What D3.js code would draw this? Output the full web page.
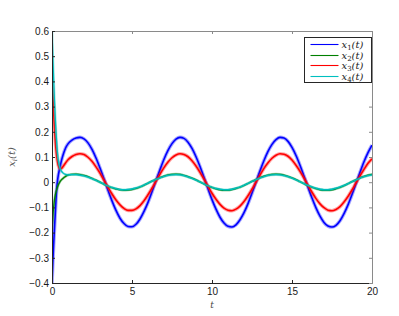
<!DOCTYPE html>
<html><head><meta charset="utf-8">
<script src="https://cdn.jsdelivr.net/npm/d3@7"></script>
<style>
html,body{margin:0;padding:0;background:#fff;}
svg{display:block;}
</style></head>
<body>
<script>
// ---- data ----
const tValues = [0,0.05,0.1,0.15,0.2,0.25,0.3,0.35,0.4,0.45,0.5,0.6,0.7,0.8,0.9,
 1,1.25,1.5,1.75,2,2.25,2.5,2.75,3,3.25,3.5,3.75,4,4.25,4.5,4.75,5,5.25,5.5,5.75,6,6.25,6.5,6.75,
 7,7.25,7.5,7.75,8,8.25,8.5,8.75,9,9.25,9.5,9.75,10,10.25,10.5,10.75,11,11.25,11.5,11.75,12,12.25,12.5,12.75,
 13,13.25,13.5,13.75,14,14.25,14.5,14.75,15,15.25,15.5,15.75,16,16.25,16.5,16.75,17,17.25,17.5,17.75,
 18,18.25,18.5,18.75,19,19.25,19.5,19.75,20];

const x1 = [-0.40,-0.32,-0.25,-0.19,-0.13,-0.07,-0.02,0.008,0.03,0.046,0.06,0.088,0.11,0.128,0.142,
 0.152,0.167,0.175,0.178,0.172,0.156,0.130,0.096,0.056,0.013,-0.032,-0.074,-0.112,-0.143,-0.164,-0.176,-0.177,-0.167,-0.146,-0.116,-0.080,-0.038,0.007,0.050,
 0.091,0.126,0.153,0.171,0.178,0.174,0.159,0.134,0.101,0.062,0.019,-0.026,-0.069,-0.107,-0.139,-0.162,-0.175,-0.178,-0.169,-0.149,-0.121,-0.085,-0.043,0.001,
 0.045,0.086,0.122,0.150,0.169,0.178,0.175,0.162,0.138,0.106,0.067,0.024,-0.020,-0.063,-0.102,-0.135,-0.160,-0.174,-0.178,-0.171,
 -0.153,-0.125,-0.090,-0.049,-0.005,0.039,0.081,0.117,0.147];

const x2 = [-0.19,-0.14,-0.10,-0.072,-0.053,-0.039,-0.028,-0.018,-0.010,-0.004,0.002,0.010,0.016,0.021,0.025,
 0.028,0.031,0.032,0.030,0.027,0.022,0.015,0.008,0.000,-0.008,-0.016,-0.022,-0.027,-0.030,-0.032,-0.031,-0.029,-0.025,-0.019,-0.012,-0.004,0.004,0.011,0.018,
 0.024,0.029,0.031,0.032,0.031,0.027,0.022,0.016,0.009,0.001,-0.007,-0.015,-0.021,-0.026,-0.030,-0.032,-0.032,-0.029,-0.025,-0.020,-0.013,-0.005,0.003,0.010,
 0.018,0.024,0.028,0.031,0.032,0.031,0.028,0.023,0.017,0.010,0.002,-0.006,-0.014,-0.020,-0.026,-0.030,-0.032,-0.032,-0.030,-0.026,
 -0.021,-0.014,-0.006,0.002,0.009,0.017,0.023,0.028,0.031];

const x3 = [0.40,0.35,0.28,0.22,0.17,0.13,0.10,0.08,0.065,0.057,0.053,0.055,0.063,0.072,0.081,
 0.089,0.102,0.110,0.113,0.110,0.099,0.083,0.061,0.036,0.008,-0.020,-0.047,-0.071,-0.090,-0.104,-0.112,-0.112,-0.106,-0.093,-0.074,-0.050,-0.024,0.004,0.032,
 0.058,0.080,0.097,0.108,0.113,0.110,0.101,0.085,0.064,0.039,0.012,-0.016,-0.044,-0.068,-0.088,-0.103,-0.111,-0.113,-0.107,-0.095,-0.077,-0.054,-0.028,0.000,
 0.028,0.055,0.077,0.095,0.107,0.113,0.111,0.103,0.088,0.067,0.043,0.016,-0.013,-0.040,-0.065,-0.086,-0.101,-0.111,-0.113,-0.108,
 -0.097,-0.079,-0.057,-0.031,-0.003,0.025,0.051,0.075,0.093];

const x4 = [0.60,0.50,0.41,0.33,0.26,0.20,0.15,0.11,0.085,0.068,0.056,0.043,0.036,0.032,0.030,
 0.029,0.030,0.030,0.028,0.025,0.020,0.014,0.007,0.000,-0.008,-0.015,-0.021,-0.025,-0.029,-0.030,-0.029,-0.027,-0.023,-0.018,-0.011,-0.004,0.004,0.011,0.017,
 0.023,0.027,0.029,0.030,0.029,0.026,0.021,0.015,0.008,0.001,-0.007,-0.014,-0.020,-0.025,-0.028,-0.030,-0.030,-0.028,-0.024,-0.019,-0.012,-0.005,0.003,0.010,
 0.017,0.022,0.027,0.029,0.030,0.029,0.026,0.022,0.016,0.009,0.002,-0.006,-0.013,-0.019,-0.024,-0.028,-0.030,-0.030,-0.028,-0.024,
 -0.019,-0.013,-0.006,0.002,0.009,0.016,0.022,0.026,0.029];

const seriesNames = ["x1","x2","x3","x4"];
const seriesSubs = ["1","2","3","4"];
const seriesColors = ["#0000ff","#008000","#ff0000","#00bfbf"];
const xTicks = [0,5,10,15,20];
const yTicks = [-0.4,-0.3,-0.2,-0.1,0,0.1,0.2,0.3,0.4,0.5,0.6];

// ---- layout ----
const W = 399, H = 316;
const L = 52, R = 372, T = 31, B = 283;
const svg = d3.select("body").append("svg").attr("width", W).attr("height", H);

const x = d3.scaleLinear().domain([0,20]).range([L,R]);
const y = d3.scaleLinear().domain([-0.4,0.6]).range([B,T]);

const fmtY = v => (Math.abs(v) < 1e-9 ? "0" : (v < 0 ? "\u2212" + d3.format(".1f")(-v) : d3.format(".1f")(v)));

svg.append("defs").append("clipPath").attr("id","clip")
  .append("rect").attr("x",L).attr("y",T).attr("width",R-L).attr("height",B-T);

// lines (a faint wider underlay mimics the noisy band of the simulated trajectories)
const allSeries = [x1,x2,x3,x4];
const line = d3.line().x(d=>x(d[0])).y(d=>y(d[1])).curve(d3.curveMonotoneX);
const gLines = svg.append("g").attr("clip-path","url(#clip)");
allSeries.forEach((vals,i)=>{
  const pts = tValues.map((t,k)=>[t, vals[k]]).filter(d=>d[1]!==undefined);
  const big = (i===0||i===2);
  gLines.append("path").datum(pts)
    .attr("fill","none").attr("stroke",seriesColors[i])
    .attr("stroke-opacity",0.35)
    .attr("stroke-width", big ? 3.6 : 2.6)
    .attr("stroke-linejoin","round")
    .attr("d",line);
  gLines.append("path").datum(pts)
    .attr("fill","none").attr("stroke",seriesColors[i])
    .attr("stroke-width", big ? 1.6 : 1.3)
    .attr("stroke-linejoin","round")
    .attr("d",line);
});

// axes (MATLAB style box with inward ticks)
const axisFont = "Liberation Sans, Arial, Helvetica, sans-serif";
const gx = svg.append("g").attr("transform",`translate(0,${B})`)
  .call(d3.axisBottom(x).tickValues(xTicks).tickSizeInner(-3).tickSizeOuter(0).tickPadding(5).tickFormat(d3.format("d")));
const gxTop = svg.append("g").attr("transform",`translate(0,${T})`)
  .call(d3.axisTop(x).tickValues(xTicks).tickSizeInner(-3).tickSizeOuter(0).tickFormat(""));
const gy = svg.append("g").attr("transform",`translate(${L},0)`)
  .call(d3.axisLeft(y).tickValues(yTicks).tickSizeInner(-3).tickSizeOuter(0).tickPadding(3).tickFormat(fmtY));
const gyR = svg.append("g").attr("transform",`translate(${R},0)`)
  .call(d3.axisRight(y).tickValues(yTicks).tickSizeInner(-3).tickSizeOuter(0).tickFormat(""));

[gx,gy].forEach(g=>{
  g.select(".domain").attr("stroke","#262626");
  g.selectAll(".tick line").attr("stroke","#262626");
  g.selectAll(".tick text").attr("fill","#1a1a1a").style("font-family",axisFont).style("font-size","10px");
});
[gxTop,gyR].forEach(g=>{
  g.select(".domain").attr("stroke","#8a8a8a");
  g.selectAll(".tick line").attr("stroke","#8a8a8a");
});

// axis titles
svg.append("text").attr("x",(L+R)/2).attr("y",308).attr("text-anchor","middle")
  .style("font-family","DejaVu Serif, Liberation Serif, serif").style("font-style","italic")
  .style("font-size","9px").attr("fill","#444").text("t");

const yl = svg.append("text").attr("transform",`translate(15,${(T+B)/2}) rotate(-90)`)
  .attr("text-anchor","middle")
  .style("font-family","DejaVu Serif, Liberation Serif, serif").style("font-style","italic")
  .style("font-size","10px").attr("fill","#555");
yl.append("tspan").text("x");
yl.append("tspan").attr("dy",2).style("font-size","7px").text("i");
yl.append("tspan").attr("dy",-2).text("(t)");

// legend
const lgX = 304.5, lgY = 37.5, lgW = 67, lgH = 45;
const lg = svg.append("g");
lg.append("rect").attr("x",lgX).attr("y",lgY).attr("width",lgW).attr("height",lgH)
  .attr("fill","#fff").attr("stroke","#262626").attr("stroke-width",1);
seriesNames.forEach((n,i)=>{
  const yy = Math.round(lgY + 6.5 + i*10.5) + 0.5;
  lg.append("line").attr("x1",lgX+6).attr("x2",lgX+34).attr("y1",yy).attr("y2",yy)
    .attr("stroke",seriesColors[i]).attr("stroke-width",1.1);
  const tx = lg.append("text").attr("x",lgX+37).attr("y",yy+3.5)
    .style("font-family","DejaVu Serif, Liberation Serif, serif").style("font-style","italic")
    .style("font-size","10px").attr("fill","#222");
  tx.append("tspan").text("x");
  tx.append("tspan").attr("dy",2).style("font-size","7px").style("font-style","normal").text(seriesSubs[i]);
  tx.append("tspan").attr("dy",-2).text("(t)");
});
</script>
</body></html>
